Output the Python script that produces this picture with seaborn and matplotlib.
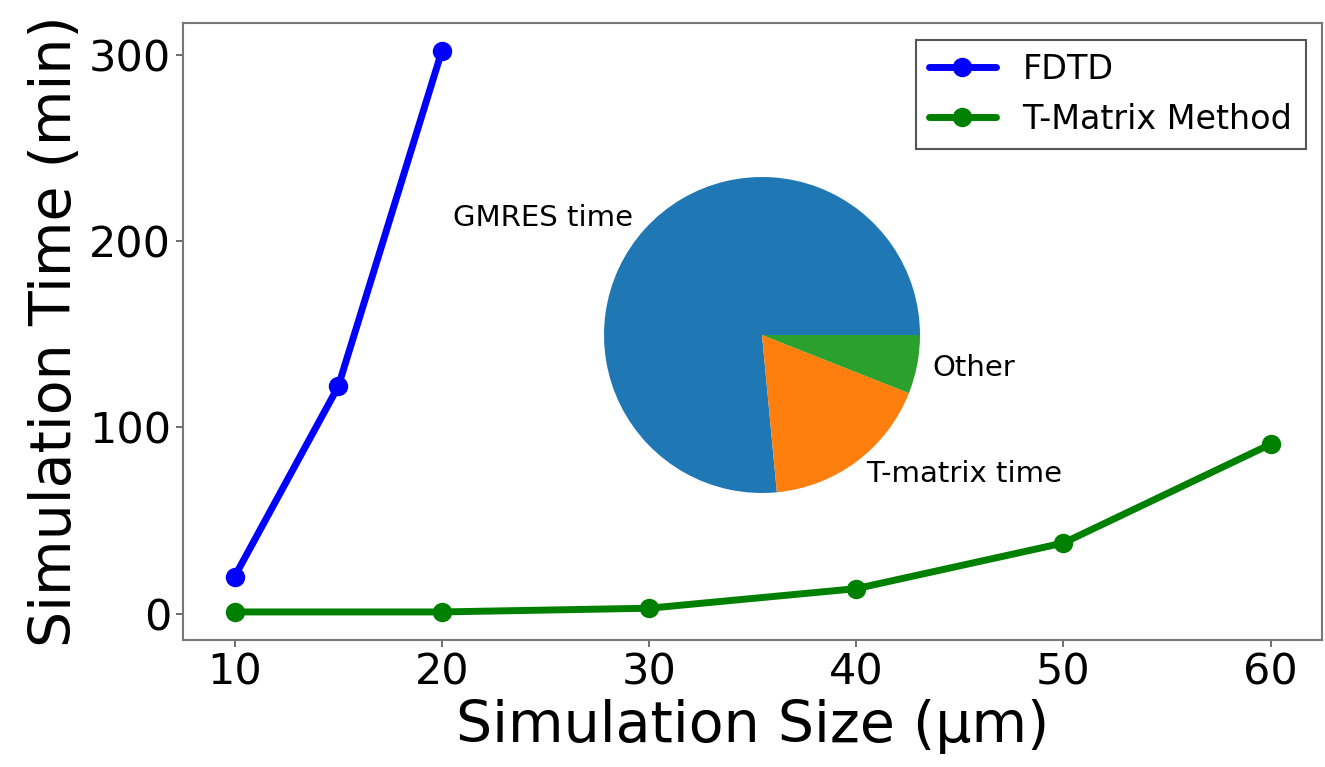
import matplotlib
matplotlib.use("Agg")
import matplotlib.pyplot as plt
import seaborn as sns

# data
fdtd_size = [10, 15, 20]
fdtd_time = [20, 122, 302]
tmm_size = [10, 20, 30, 40, 50, 60]
tmm_time = [1, 1, 3, 13.5, 38, 91]
pie_labels = ['GMRES time', 'T-matrix time', 'Other']
pie_shares = [76.5, 17.5, 6.0]

sns.set_style('ticks')
plt.rcParams['font.family'] = ['DejaVu Sans']
plt.rcParams['text.color'] = 'black'
plt.rcParams['axes.labelcolor'] = 'black'
plt.rcParams['xtick.color'] = 'black'
plt.rcParams['ytick.color'] = 'black'

fig = plt.figure(figsize=(13.25, 7.67), dpi=100)
ax = fig.add_axes([0.138, 0.1656, 0.860, 0.8044])

sns.lineplot(x=fdtd_size, y=fdtd_time, ax=ax, color='blue', marker='o',
             linewidth=5, markersize=14, markeredgewidth=0, label='FDTD')
sns.lineplot(x=tmm_size, y=tmm_time, ax=ax, color='green', marker='o',
             linewidth=5, markersize=14, markeredgewidth=0, label='T-Matrix Method')

ax.set_xticks([10, 20, 30, 40, 50, 60])
ax.set_yticks([0, 100, 200, 300])
ax.tick_params(labelsize=31, length=5, width=1.2, color='#555555')
ax.set_xlabel('Simulation Size (µm)', fontsize=41)
ax.set_ylabel('Simulation Time (min)', fontsize=41)
for sp in ax.spines.values():
    sp.set_color('#777777')
    sp.set_linewidth(1.5)

leg = ax.legend(loc='upper right', fontsize=24, fancybox=False,
                edgecolor='#555555', framealpha=1, handlelength=2.0)
leg.get_frame().set_linewidth(1.5)

# inset pie chart
pax = fig.add_axes([604 / 1325, 1 - 493 / 767, 316 / 1325, 316 / 767])
pax.pie(pie_shares, labels=pie_labels, colors=sns.color_palette('tab10')[:3],
        startangle=0, textprops={'fontsize': 21, 'color': 'black'},
        wedgeprops={'linewidth': 0})
pax.set_xlim(-1, 1)
pax.set_ylim(-1, 1)
pax.set_aspect('auto')

fig.savefig('out.png', dpi=100)
